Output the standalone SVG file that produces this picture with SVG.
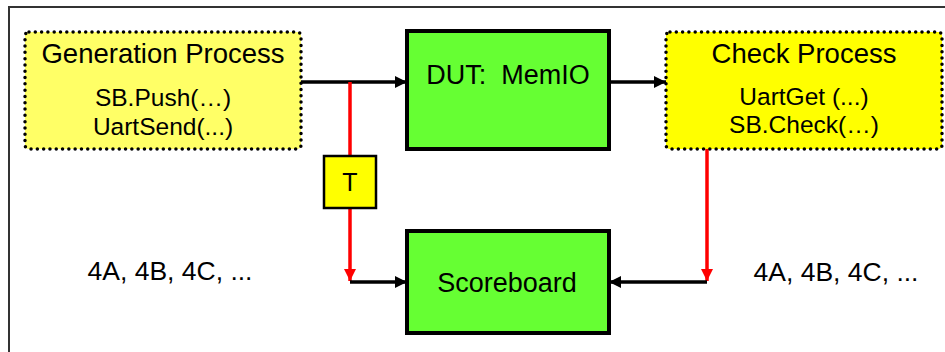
<svg xmlns="http://www.w3.org/2000/svg" width="945" height="352" viewBox="0 0 945 352">
<defs>
<style>
text{font-family:"Liberation Sans",Arial,sans-serif;fill:#000;text-anchor:middle}
.proc{stroke:#000;stroke-width:3.5;stroke-linecap:round;stroke-dasharray:0 6.3}
.blk{fill:#66FF33;stroke:#000;stroke-width:4}
.k{stroke:#000;stroke-width:3.5;fill:none}
.r{stroke:#FF0000;stroke-width:3.5;fill:none}
</style>
<marker id="ak" markerWidth="12" markerHeight="12" refX="12" refY="6" orient="auto" markerUnits="userSpaceOnUse"><path d="M0,0 L12,6 L0,12 Z" fill="#000"/></marker>
<marker id="ar" markerWidth="12" markerHeight="12" refX="12" refY="6" orient="auto" markerUnits="userSpaceOnUse"><path d="M0,0 L12,6 L0,12 Z" fill="#FF0000"/></marker>
</defs>
<rect x="9" y="7" width="1000" height="400" fill="#fff" stroke="#333" stroke-width="2"/>
<g id="connectors">
<line class="k" x1="301" y1="82" x2="407" y2="82" marker-end="url(#ak)"/>
<line class="k" x1="609" y1="82" x2="666" y2="82" marker-end="url(#ak)"/>
<line class="r" x1="350" y1="82" x2="350" y2="156"/>
<line class="r" x1="350" y1="208" x2="350" y2="281" marker-end="url(#ar)"/>
<line class="k" x1="350" y1="282" x2="407" y2="282" marker-end="url(#ak)"/>
<line class="r" x1="707" y1="149" x2="707" y2="281" marker-end="url(#ar)"/>
<line class="k" x1="707" y1="282" x2="609" y2="282" marker-end="url(#ak)"/>
</g>
<g id="gen">
<rect class="proc" x="25" y="32" width="276" height="117" rx="4" fill="#FFFF66"/>
<text x="163" y="63" font-size="27.5">Generation Process</text>
<text x="163" y="106" font-size="24.5">SB.Push(…)</text>
<text x="163" y="135" font-size="24.5">UartSend(...)</text>
</g>
<g id="dut">
<rect class="blk" x="407" y="31" width="202" height="118"/>
<text x="508" y="84" font-size="27" xml:space="preserve">DUT:  MemIO</text>
</g>
<g id="check">
<rect class="proc" x="666" y="32" width="276" height="117" rx="4" fill="#FFFF00"/>
<text x="804" y="63" font-size="27.5">Check Process</text>
<text x="804" y="105" font-size="24.5">UartGet (...)</text>
<text x="804" y="133" font-size="24.5">SB.Check(…)</text>
</g>
<g id="t">
<rect x="324" y="156" width="52" height="52" fill="#FFFF00" stroke="#000" stroke-width="2.5"/>
<text x="350" y="191" font-size="25">T</text>
</g>
<g id="scoreboard">
<rect class="blk" x="407" y="231" width="202" height="102"/>
<text x="507" y="292" font-size="27">Scoreboard</text>
</g>
<g id="labels">
<text x="170" y="280" font-size="26.5">4A, 4B, 4C, ...</text>
<text x="836" y="281" font-size="26.5">4A, 4B, 4C, ...</text>
</g>
</svg>
